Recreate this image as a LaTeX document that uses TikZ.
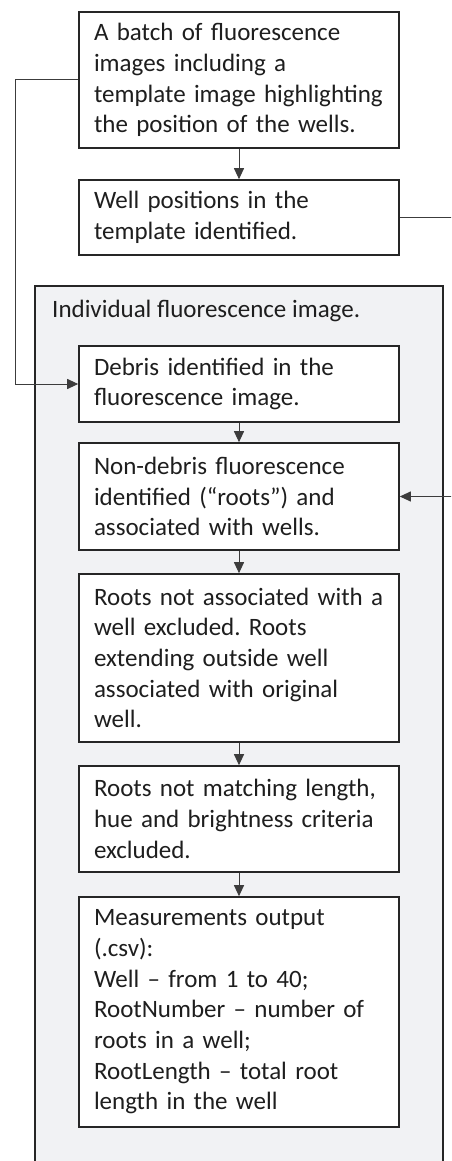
\documentclass[tikz,border=0pt]{standalone}
\usepackage{fontspec}
\setmainfont{Carlito}
\usetikzlibrary{arrows.meta}
\definecolor{panel}{RGB}{241,242,244}
\definecolor{edge}{RGB}{38,38,38}
\definecolor{wire}{RGB}{60,60,60}
\definecolor{ink}{RGB}{30,30,30}
\newcommand{\lineb}[1]{\mbox{#1}}
\frenchspacing
\begin{document}
\begin{tikzpicture}[x=1pt,y=-1pt,
  stepbox/.style={draw=edge, line width=1.6pt, fill=white, text width=290pt,
    inner xsep=15pt, inner ysep=0pt, align=left, minimum width=320pt,
    font=\fontsize{25}{30.7}\selectfont, text=ink},
  flow/.style={draw=wire, line width=1pt, -{Triangle[length=11pt,width=10pt]}},
  link/.style={draw=wire, line width=1pt}]
\useasboundingbox (0,0) rectangle (451,1161);
\clip (0,0) rectangle (451,1161);
% outer panel
\fill[panel] (35,286) rectangle (443,1190);
\draw[edge, line width=1.6pt] (35,1190) -- (35,286) -- (443,286) -- (443,1190);
\node[anchor=base west, inner sep=0pt, font=\fontsize{25}{30.7}\selectfont, text=ink] (title) at (52,317) {Individual fluorescence image.};
% boxes
\node[stepbox, minimum height=136pt] (b1) at (239,80) {\lineb{A batch of fluorescence}\\\lineb{images including a}\\\lineb{template image highlighting}\\\lineb{the position of the wells.}};
\node[stepbox, minimum height=75pt] (b2) at (239,217.5) {\lineb{Well positions in the}\\\lineb{template identified.}};
\node[stepbox, minimum height=76pt] (b3) at (239,384) {\lineb{Debris identified in the}\\\lineb{fluorescence image.}};
\node[stepbox, minimum height=107pt] (b4) at (239,496.5) {\lineb{Non-debris fluorescence}\\\lineb{identified (“roots”) and}\\\lineb{associated with wells.}};
\node[stepbox, minimum height=168pt] (b5) at (239,658) {\lineb{Roots not associated with a}\\\lineb{well excluded. Roots}\\\lineb{extending outside well}\\\lineb{associated with original}\\\lineb{well.}};
\node[stepbox, minimum height=106pt] (b6) at (239,819) {\lineb{Roots not matching length,}\\\lineb{hue and brightness criteria}\\\lineb{excluded.}};
\node[stepbox, minimum height=230pt] (b7) at (239,1012) {\lineb{Measurements output}\\\lineb{(.csv):}\\\lineb{Well – from 1 to 40;}\\\lineb{RootNumber – number of}\\\lineb{roots in a well;}\\\lineb{RootLength – total root}\\\lineb{length in the well}};
% connectors
\draw[flow] (b1) -- (b2);
\draw[flow] (b3) -- (b4);
\draw[flow] (b4) -- (b5);
\draw[flow] (b5) -- (b6);
\draw[flow] (b6) -- (b7);
\coordinate (lc) at (15,80);
\draw[flow] (b1.west) -- (lc) |- (b3.west);
\coordinate (rc) at (470,217.5);
\draw[flow] (b2.east) -- (rc) |- (b4.east);
\end{tikzpicture}
\end{document}
